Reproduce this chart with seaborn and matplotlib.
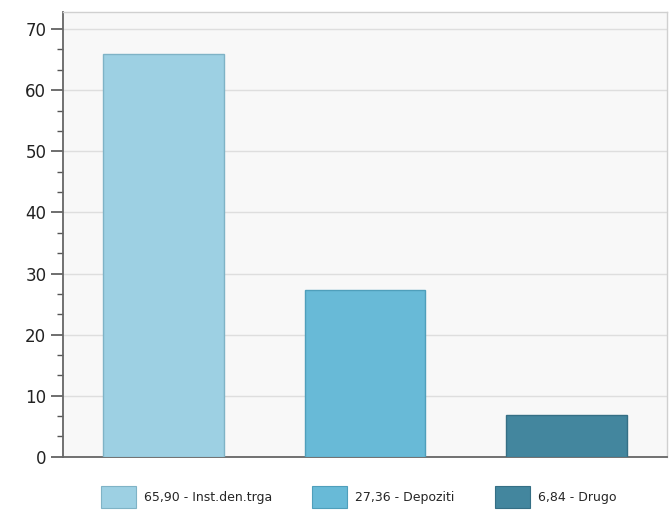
import seaborn as sns
import matplotlib.pyplot as plt
import pandas as pd
from matplotlib.ticker import MultipleLocator
from matplotlib.patches import Patch

categories = ["Inst.den.trga", "Depoziti", "Drugo"]
values = [65.90, 27.36, 6.84]
labels = ["65,90 - Inst.den.trga", "27,36 - Depoziti", "6,84 - Drugo"]
colors = ["#9dd0e3", "#68bad7", "#43869e"]
edges = ["#7fb3c6", "#4f9fbb", "#356f85"]

df = pd.DataFrame({"cat": categories, "value": values})

sns.set_style("white")
plt.rcParams['font.family'] = ['DejaVu Sans']

fig = plt.figure(figsize=(6.7, 5.11), dpi=100)
ax = fig.add_axes([0.094, 0.106, 0.9015, 0.8705])
ax.set_facecolor("#f8f8f8")

sns.barplot(data=df, x="cat", y="value", hue="cat", palette=colors,
            width=0.6, linewidth=1, ax=ax, legend=False,
            saturation=1, zorder=3)
for bar, e in zip(ax.patches, edges):
    bar.set_edgecolor(e)

ax.set_xlim(-0.5, 2.5)
ax.set_ylim(0, 72.8)
ax.yaxis.set_major_locator(MultipleLocator(10))
ax.yaxis.set_minor_locator(MultipleLocator(10 / 3))
ax.grid(axis="y", which="major", color="#dedede", linewidth=1, zorder=0)
ax.set_xticks([])
ax.set_xlabel("")
ax.set_ylabel("")
ax.tick_params(axis="y", which="major", length=9, width=1.2, color="#555555",
               labelsize=12, labelcolor="#222222", direction="out", left=True, pad=3)
ax.tick_params(axis="y", which="minor", length=4, width=1, color="#555555",
               direction="out", left=True)

for side in ["left", "bottom"]:
    ax.spines[side].set_color("#666666")
    ax.spines[side].set_linewidth(1.3)
for side in ["top", "right"]:
    ax.spines[side].set_color("#d0d0d0")
    ax.spines[side].set_linewidth(1)

handles = [Patch(facecolor=c, edgecolor=e, linewidth=0.8) for c, e in zip(colors, edges)]
fig.legend(handles, labels, loc="lower center", bbox_to_anchor=(0.535, -0.016), ncol=3,
           frameon=False, fontsize=9, handlelength=2.8, handleheight=2.3,
           columnspacing=3.2, handletextpad=0.65)

fig.savefig("out.png", dpi=100)
